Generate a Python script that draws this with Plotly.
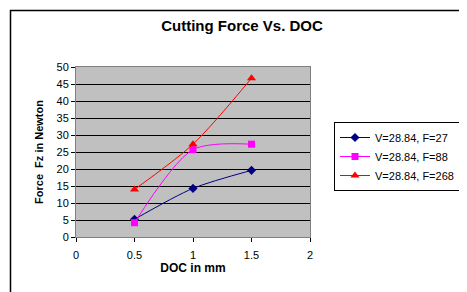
import plotly.graph_objects as go

doc = [0.5, 1.0, 1.5]
f27 = [5.2, 14.3, 19.6]
f88 = [4.2, 25.7, 27.3]
f268 = [14.0, 27.3, 46.7]
names = ["V=28.84, F=27", "V=28.84, F=88", "V=28.84, F=268"]

OFF = 8  # page body margin
W, H = 467, 292
L, T = 76 - OFF, 67 - OFF
pw, ph = 234, 170
R, B = W - L - pw, H - T - ph

fig = go.Figure()
specs = [(f27, "#000080", "diamond", 7), (f88, "#FF00FF", "square", 7), (f268, "#FF0000", "triangle-up", 8)]
for (ys, col, sym, sz), nm in zip(specs, names):
    fig.add_trace(go.Scatter(x=doc, y=ys, name=nm, mode="lines+markers",
                             line=dict(color=col, width=1, shape="spline", smoothing=0.8),
                             marker=dict(color=col, symbol=sym, size=sz)))

def px_x(p):
    return (p - OFF - L) / pw

def px_y(p):
    return (T + ph - (p - OFF)) / ph

fig.add_shape(type="rect", xref="paper", yref="paper",
              x0=px_x(10.5), x1=px_x(480), y0=px_y(310), y1=px_y(10.5),
              line=dict(color="black", width=1.5), fillcolor="rgba(0,0,0,0)", layer="below")

fig.update_layout(
    width=W, height=H,
    margin=dict(l=L, r=R, t=T, b=B, autoexpand=False),
    paper_bgcolor="white", plot_bgcolor="#C0C0C0",
    font=dict(family="Arial, Liberation Sans", size=11, color="black"),
    title=dict(text="<b>Cutting Force Vs. DOC</b>", x=(242 - OFF) / W, xanchor="center",
               y=1 - (26 - OFF) / H, yanchor="middle", font=dict(size=15)),
    showlegend=True,
    legend=dict(x=px_x(334), y=px_y(122), xanchor="left", yanchor="top",
                bordercolor="black", borderwidth=1, bgcolor="white",
                font=dict(size=11), tracegroupgap=0, itemwidth=30),
    xaxis=dict(range=[0, 2], tickvals=[0, 0.5, 1, 1.5, 2],
               ticktext=["0", "0.5", "1", "1.5", "2"],
               showgrid=False, zeroline=False, ticks="outside", ticklen=4,
               tickcolor="black", showline=True, linecolor="#808080", mirror=True,
               ticklabelstandoff=4,
               title=dict(text="<b>DOC in mm</b>", font=dict(size=12), standoff=2)),
    yaxis=dict(range=[0, 50], dtick=5, showgrid=True, gridcolor="black", gridwidth=1,
               zeroline=False, ticks="outside", ticklen=4, tickcolor="black",
               showline=True, linecolor="#808080", mirror=True,
               ticklabelstandoff=0,
               title=dict(text="<b>Force  Fz in Newton</b>", font=dict(size=11), standoff=10)),
)

fig.write_html("out.html")
